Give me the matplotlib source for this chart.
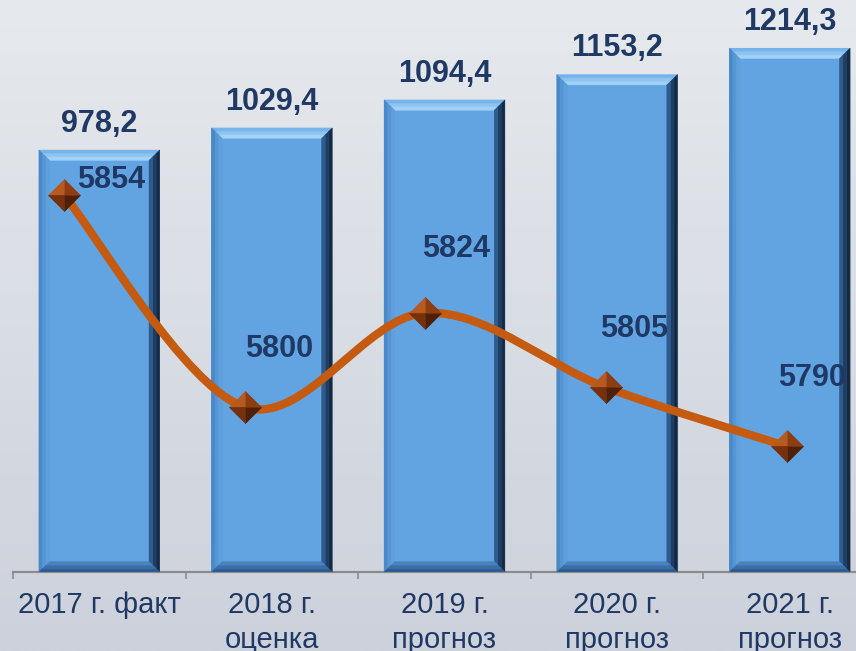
import numpy as np
import matplotlib.pyplot as plt
from matplotlib.patches import Polygon, PathPatch
from matplotlib.path import Path

plt.rcParams['font.family'] = ['Liberation Sans', 'DejaVu Sans']

# --- данные ---
categories = ['2017 г. факт', '2018 г.\nоценка', '2019 г.\nпрогноз',
              '2020 г.\nпрогноз', '2021 г.\nпрогноз']
bar_values = [978.2, 1029.4, 1094.4, 1153.2, 1214.3]
line_values = [5854, 5800, 5824, 5805, 5790]
line_label_offsets = [(34, 11), (25, 42), (22, 46), (20, 42), (18, 49)]  # в пунктах

text_color = '#1f3864'
bar_color = '#62a4e2'
line_color = '#c55a11'

fig = plt.figure(figsize=(8.56, 6.51), dpi=100)

# фон с градиентом
bg = fig.add_axes([0, 0, 1, 1], zorder=-10)
grad = np.linspace(0, 1, 256).reshape(-1, 1)
top = np.array([0.902, 0.914, 0.929])
bot = np.array([0.800, 0.820, 0.860])
img = top[None, None, :] * (1 - grad[:, :, None]) + bot[None, None, :] * grad[:, :, None]
bg.imshow(img, aspect='auto', extent=[0, 1, 0, 1])
bg.axis('off')

pos = [13 / 856, 79 / 651, 863 / 856, 572 / 651]
ax = fig.add_axes(pos)
ax.patch.set_alpha(0)

x = np.arange(len(categories))
bars = ax.bar(x, bar_values, width=0.70, color=bar_color, zorder=2)
ax.set_xlim(-0.5, 4.5)
ax.set_ylim(0, 1326)

# фаски у столбцов (полосы между внешним и внутренним прямоугольником)
bx = 0.062
by = 24.0


def band(x0, y0, x1, y1, side, t0, t1):
    def corner(t):
        return (x0 + bx * t, y0 + by * t, x1 - bx * t, y1 - by * t)
    a0, b0, a1, b1 = corner(t0)
    c0, d0, c1, d1 = corner(t1)
    if side == 'top':
        return [(a0, b1), (a1, b1), (c1, d1), (c0, d1)]
    if side == 'bottom':
        return [(a0, b0), (a1, b0), (c1, d0), (c0, d0)]
    if side == 'left':
        return [(a0, b0), (a0, b1), (c0, d1), (c0, d0)]
    return [(a1, b0), (a1, b1), (c1, d1), (c1, d0)]


bevel_colors = {
    'top': ['#78b3ea', '#8ec4f1', '#a3d2f7'],
    'left': ['#4a89c8', '#5596d4', '#5e9fdc'],
    'right': ['#142a45', '#1f3d62', '#2e5a8c'],
    'bottom': ['#2e5c90', '#3a6ea6', '#4a82bd'],
}
for rect in bars:
    x0, y0 = rect.get_x(), rect.get_y()
    x1, y1 = x0 + rect.get_width(), y0 + rect.get_height()
    for side, cols in bevel_colors.items():
        n = len(cols)
        for k, c in enumerate(cols):
            ax.add_patch(Polygon(band(x0, y0, x1, y1, side, k / n, (k + 1) / n),
                                 closed=True, facecolor=c, edgecolor=c,
                                 lw=0.3, zorder=3))

for xi, v in zip(x, bar_values):
    ax.annotate(f'{v:.1f}'.replace('.', ','), (xi, v), xytext=(0, 8),
                textcoords='offset points', ha='center', va='bottom',
                fontsize=22, fontweight='bold', color=text_color)

for s in ['top', 'left', 'right']:
    ax.spines[s].set_visible(False)
ax.spines['bottom'].set_color('#8c8c8c')
ax.spines['bottom'].set_linewidth(1.6)
ax.set_yticks([])
ax.set_xticks(x)
ax.set_xticklabels(categories, fontsize=21, color=text_color, linespacing=1.28)
ax.set_xticks(np.arange(-0.5, 5, 1), minor=True)
ax.tick_params(axis='x', which='major', length=0, pad=14)
ax.tick_params(axis='x', which='minor', length=5, width=1.2, color='#8c8c8c')

# линия на второй оси
ax2 = fig.add_axes(pos)
ax2.patch.set_alpha(0)
ax2.axis('off')
ax2.set_xlim(-0.282, 4.493)
ax2.set_ylim(5758, 5903.7)

pts = np.column_stack([x, line_values]).astype(float)
verts = [pts[0]]
codes = [Path.MOVETO]
for i in range(len(pts) - 1):
    p0 = pts[max(i - 1, 0)]
    p1 = pts[i]
    p2 = pts[i + 1]
    p3 = pts[min(i + 2, len(pts) - 1)]
    c1 = p1 + (p2 - p0) / 6
    c2 = p2 - (p3 - p1) / 6
    verts += [c1, c2, p2]
    codes += [Path.CURVE4] * 3
ax2.add_patch(PathPatch(Path(verts, codes), fill=False, edgecolor=line_color,
                        lw=6, capstyle='round', zorder=4))

# ромбы-пирамидки из четырёх граней
tri = {
    '#b65a20': [(-1, 0), (0, 1), (0, 0)],
    '#8e3d12': [(0, 1), (1, 0), (0, 0)],
    '#4f1f06': [(1, 0), (0, -1), (0, 0)],
    '#76300c': [(0, -1), (-1, 0), (0, 0)],
}
for c, m in tri.items():
    ax2.plot(x, line_values, linestyle='none', marker=m, markersize=23,
             markerfacecolor=c, markeredgecolor=c, markeredgewidth=0.5, zorder=5)

for xi, v, off in zip(x, line_values, line_label_offsets):
    ax2.annotate(str(v), (xi, v), xytext=off, textcoords='offset points',
                 ha='center', va='center', fontsize=22, fontweight='bold',
                 color=text_color, zorder=6)

fig.savefig('out.png', dpi=100)
